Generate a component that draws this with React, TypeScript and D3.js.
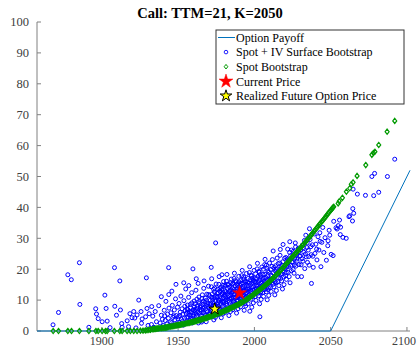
import React from "react";
import * as d3 from "d3";

const titleText = "Call: TTM=21, K=2050";
const xTicks = [1900, 1950, 2000, 2050, 2100];
const yTicks = [0, 10, 20, 30, 40, 50, 60, 70, 80, 90, 100];
const legendLabels = [
  "Option Payoff",
  "Spot + IV Surface Bootstrap",
  "Spot Bootstrap",
  "Current Price",
  "Realized Future Option Price",
];

// Option payoff: spot vs payoff
const payoffSpot = [1857.5, 2050, 2102];
const payoffValue = [0, 0, 52];

// Current / realized points [spot, price]
const currentPrice: [number, number] = [1990.3, 12.3];
const realizedPrice: [number, number] = [1974.0, 7.1];

// Spot + IV surface bootstrap [spot, price]
const ivBootstrap: [number, number][] = [
  [1868.0, 2.0], [1871.6, 6.0], [1877.7, 18.2], [1880.0, 16.6], [1885.3, 22.1], [1885.6, 8.6],
  [1891.5, 1.2], [1896.0, 7.2], [1896.5, 5.5], [1897.6, 4.0], [1900.2, 3.0], [1903.5, 3.2],
  [1902.8, 7.3], [1902.0, 11.6], [1908.3, 20.5], [1911.8, 16.2], [1908.5, 8.0], [1912.2, 6.8],
  [1909.6, 5.1], [1913.3, 1.2], [1916.6, 3.3], [1919.8, 4.3], [1920.9, 6.3], [1923.1, 5.2],
  [1924.2, 10.0], [1925.7, 6.3], [1929.6, 7.3], [1929.2, 17.2], [1943.8, 20.5], [1959.7, 20.1],
  [1974.6, 28.5], [1939.0, 11.1], [1948.6, 15.1], [1953.7, 15.6], [1961.9, 16.9], [1971.7, 20.6],
  [1978.7, 18.2], [1918.4, 5.6], [1921.6, 4.2], [1926.4, 3.9], [1928.7, 4.6], [1931.0, 5.6],
  [1932.7, 7.9], [1926.0, 2.5], [1930.3, 1.8], [1917.5, 1.4], [1922.4, 1.0], [1913.0, 2.4],
  [1905.4, 1.1],
  [1932.5, 2.1], [1933.4, 4.8], [1934.1, 1.2], [1935.0, 6.3], [1935.8, 3.0], [1936.7, 0.9],
  [1937.3, 8.2], [1938.2, 2.6], [1939.0, 5.1], [1939.7, 3.8],
  [1940.3, 1.8], [1940.9, 6.7], [1941.6, 3.4], [1942.0, 9.6], [1942.7, 2.3], [1943.1, 5.5],
  [1943.6, 4.1], [1944.0, 7.4], [1944.4, 1.5], [1944.9, 3.0], [1941.2, 4.9], [1943.9, 11.8],
  [1945.3, 5.9], [1945.8, 2.7], [1946.2, 8.3], [1946.6, 4.4], [1947.1, 1.9], [1947.5, 6.8],
  [1947.9, 3.6], [1948.3, 10.4], [1948.8, 5.0], [1949.2, 2.2], [1949.6, 7.7], [1945.9, 12.9],
  [1947.3, 4.9], [1949.9, 3.9],
  [1950.2, 4.6], [1950.6, 8.9], [1951.0, 2.8], [1951.4, 6.1], [1951.8, 11.3], [1952.2, 3.7],
  [1952.6, 7.2], [1953.0, 5.4], [1953.4, 1.9], [1953.8, 9.8], [1954.2, 4.2], [1954.6, 6.6],
  [1955.0, 13.6], [1951.2, 5.0], [1952.9, 3.1], [1954.4, 8.0],
  [1955.3, 5.7], [1955.7, 2.9], [1956.1, 8.4], [1956.5, 4.5], [1956.9, 10.9], [1957.3, 6.3],
  [1957.7, 3.4], [1958.1, 7.5], [1958.5, 5.1], [1958.9, 12.4], [1959.3, 2.6], [1959.7, 6.9],
  [1956.3, 6.0], [1957.0, 14.7], [1958.2, 4.0], [1959.0, 9.1], [1959.8, 4.8], [1955.9, 7.1],
  [1960.1, 5.3], [1960.5, 9.7], [1960.9, 3.5], [1961.3, 7.0], [1961.7, 13.2], [1962.1, 4.8],
  [1962.5, 8.1], [1962.9, 6.2], [1963.3, 2.6], [1963.7, 11.0], [1964.1, 5.8], [1964.5, 7.6],
  [1964.9, 4.2], [1961.0, 6.4], [1962.3, 10.3], [1963.1, 15.4], [1963.9, 8.9], [1964.7, 3.2],
  [1960.7, 7.8], [1962.8, 5.1],
  [1965.2, 6.8], [1965.6, 10.5], [1966.0, 4.1], [1966.4, 8.6], [1966.8, 13.8], [1967.2, 5.6],
  [1967.6, 9.3], [1968.0, 7.1], [1968.4, 3.0], [1968.8, 11.9], [1969.2, 6.2], [1969.6, 8.0],
  [1965.4, 2.9], [1966.2, 7.4], [1967.0, 16.2], [1967.8, 5.0], [1968.6, 9.9], [1969.4, 4.5],
  [1969.9, 14.5], [1966.6, 6.0], [1968.2, 8.3], [1965.9, 11.7],
  [1970.2, 7.6], [1970.6, 11.4], [1971.0, 4.7], [1971.4, 9.0], [1971.8, 14.3], [1972.2, 6.3],
  [1972.6, 10.1], [1973.0, 8.2], [1973.4, 3.6], [1973.8, 12.6], [1974.2, 6.9], [1974.6, 9.6],
  [1970.4, 5.4], [1971.2, 8.1], [1972.0, 16.9], [1972.8, 5.8], [1973.6, 10.8], [1974.4, 4.4],
  [1974.9, 15.2], [1971.6, 7.0], [1973.2, 13.5], [1970.9, 9.9], [1972.4, 12.0], [1974.0, 8.4],
  [1975.1, 8.7], [1975.5, 12.2], [1975.9, 5.2], [1976.3, 10.0], [1976.7, 15.1], [1977.1, 7.4],
  [1977.5, 11.1], [1977.9, 9.0], [1978.3, 4.3], [1978.7, 13.4], [1979.1, 7.9], [1979.5, 10.6],
  [1975.3, 6.3], [1976.1, 9.2], [1976.9, 17.6], [1977.7, 6.6], [1978.5, 11.8], [1979.3, 5.5],
  [1979.8, 16.0], [1976.5, 8.0], [1978.1, 14.2], [1975.8, 10.9], [1977.3, 12.9], [1978.9, 9.5],
  [1979.6, 12.4], [1976.0, 13.5],
  [1980.1, 9.6], [1980.5, 13.0], [1980.9, 6.0], [1981.3, 10.9], [1981.7, 16.1], [1982.1, 8.3],
  [1982.5, 12.1], [1982.9, 9.9], [1983.3, 5.0], [1983.7, 14.2], [1984.1, 8.8], [1984.5, 11.5],
  [1980.3, 7.2], [1981.1, 10.0], [1982.0, 18.3], [1982.7, 7.5], [1983.5, 12.7], [1984.3, 6.3],
  [1984.8, 16.8], [1981.5, 8.9], [1983.1, 15.0], [1980.8, 11.8], [1982.3, 13.8], [1983.9, 10.4],
  [1984.6, 13.3], [1981.0, 14.5],
  [1985.1, 10.5], [1985.5, 13.9], [1985.9, 6.9], [1986.3, 11.8], [1986.7, 17.0], [1987.1, 9.2],
  [1987.5, 13.0], [1987.9, 10.8], [1988.3, 5.8], [1988.7, 15.1], [1989.1, 9.7], [1989.5, 12.4],
  [1985.3, 8.1], [1986.1, 10.9], [1986.9, 18.7], [1987.7, 8.4], [1988.5, 13.6], [1989.3, 7.2],
  [1989.8, 17.7], [1986.5, 9.8], [1988.1, 15.9], [1985.8, 12.7], [1987.3, 14.7], [1988.9, 11.3],
  [1989.6, 14.2], [1986.0, 15.4], [1987.0, 12.0], [1988.8, 10.1],
  [1990.1, 11.4], [1990.5, 14.8], [1990.9, 7.8], [1991.3, 12.7], [1991.7, 17.9], [1992.1, 10.1],
  [1992.5, 13.9], [1992.9, 11.7], [1993.3, 6.7], [1993.7, 16.0], [1994.1, 10.6], [1994.5, 13.3],
  [1990.3, 9.0], [1991.1, 11.8], [1992.0, 19.6], [1992.7, 9.3], [1993.5, 14.5], [1994.3, 8.1],
  [1994.8, 18.6], [1991.5, 10.7], [1993.1, 16.8], [1990.8, 13.6], [1992.3, 15.6], [1993.9, 12.2],
  [1994.6, 15.1], [1991.0, 16.3], [1992.8, 12.9], [1994.0, 11.0],
  [1995.1, 12.4], [1995.5, 15.8], [1995.9, 8.8], [1996.3, 13.7], [1996.7, 18.9], [1997.1, 11.1],
  [1997.5, 14.9], [1997.9, 12.7], [1998.3, 7.7], [1998.7, 17.0], [1999.1, 11.6], [1999.5, 14.3],
  [1995.3, 10.0], [1996.1, 12.8], [1996.9, 20.8], [1997.7, 10.3], [1998.5, 15.5], [1999.3, 9.1],
  [1999.8, 19.6], [1996.5, 11.7], [1998.1, 17.8], [1995.8, 14.6], [1997.3, 16.6], [1998.9, 13.2],
  [1999.6, 16.1], [1997.0, 6.4],
  [2000.2, 13.5], [2000.6, 17.0], [2001.0, 9.9], [2001.4, 14.8], [2001.8, 20.1], [2002.2, 12.2],
  [2002.6, 16.0], [2003.0, 13.8], [2003.4, 8.8], [2003.8, 18.2], [2004.2, 12.7], [2004.6, 15.4],
  [2000.4, 11.1], [2001.2, 13.9], [2002.0, 21.9], [2002.8, 11.4], [2003.6, 16.6], [2004.4, 10.2],
  [2004.9, 20.7], [2001.6, 12.8], [2003.2, 19.0], [2000.9, 15.7], [2002.4, 17.7], [2003.6, 4.6],
  [2005.2, 14.8], [2005.6, 18.3], [2006.0, 11.2], [2006.4, 16.1], [2006.8, 21.5], [2007.2, 13.5],
  [2007.6, 17.3], [2008.0, 15.1], [2008.4, 10.1], [2008.8, 19.5], [2009.2, 14.0], [2009.6, 16.7],
  [2005.4, 12.4], [2006.2, 15.2], [2007.0, 23.2], [2007.8, 12.7], [2008.6, 17.9], [2009.4, 11.5],
  [2009.9, 22.0], [2006.6, 14.1], [2008.2, 20.3], [2005.9, 17.0],
  [2010.2, 16.4], [2010.6, 19.9], [2011.0, 12.8], [2011.4, 17.7], [2011.8, 23.1], [2012.2, 15.1],
  [2012.6, 18.9], [2013.0, 16.7], [2013.4, 11.7], [2013.8, 21.1], [2014.2, 15.6], [2014.6, 18.3],
  [2010.4, 14.0], [2011.2, 16.8], [2012.3, 25.9], [2012.8, 14.3], [2013.6, 19.5], [2014.4, 13.1],
  [2014.9, 23.6], [2011.6, 15.7],
  [2015.2, 18.3], [2015.6, 21.8], [2016.0, 14.7], [2016.4, 19.6], [2016.8, 24.5], [2017.2, 17.0],
  [2017.6, 20.8], [2018.0, 18.6], [2018.4, 13.6], [2018.8, 28.0], [2019.2, 17.5], [2019.6, 20.2],
  [2015.4, 15.9], [2016.2, 18.7], [2017.0, 26.4], [2017.8, 16.2], [2018.6, 22.4], [2019.4, 15.0],
  [2020.2, 20.3], [2020.6, 23.8], [2021.0, 16.7], [2021.4, 21.6], [2021.8, 26.5], [2022.2, 19.0],
  [2022.6, 22.8], [2023.2, 28.9], [2023.4, 15.6], [2023.8, 24.4], [2024.2, 19.5], [2024.6, 22.2],
  [2020.4, 17.9], [2021.2, 20.7], [2022.8, 17.6], [2024.4, 26.2],
  [2025.2, 22.3], [2025.6, 25.8], [2026.0, 18.7], [2026.4, 23.6], [2026.8, 28.5], [2027.2, 21.0],
  [2027.6, 24.8], [2028.0, 22.6], [2028.4, 17.6], [2028.8, 26.8], [2029.2, 21.5], [2029.6, 24.2],
  [2025.4, 19.9], [2027.0, 27.2],
  [2030.2, 24.3], [2030.9, 17.6], [2031.4, 27.8], [2031.8, 22.6], [2032.4, 25.5], [2033.0, 20.2],
  [2033.7, 31.0], [2034.0, 24.0], [2034.4, 27.0], [2030.6, 21.4], [2032.8, 29.3], [2034.8, 22.2],
  [2035.3, 26.2], [2035.9, 21.3], [2036.5, 29.6], [2037.4, 15.4], [2037.2, 24.7], [2038.0, 27.9],
  [2038.6, 20.6], [2039.2, 31.4], [2039.7, 25.1], [2036.1, 33.1],
  [2040.3, 28.1], [2041.0, 23.0], [2041.7, 30.5], [2042.3, 26.2], [2042.9, 31.8], [2043.6, 20.8],
  [2044.2, 28.7], [2044.8, 33.5],
  [2045.5, 25.4], [2046.3, 30.2], [2047.2, 22.9], [2048.1, 27.6], [2049.0, 32.6], [2050.3, 24.8],
  [2051.6, 24.4], [2049.4, 31.0], [2048.3, 29.2],
  [2052.0, 35.5], [2053.5, 33.4], [2055.0, 34.1], [2056.5, 33.6], [2055.8, 35.9], [2058.0, 30.3],
  [2060.2, 30.0], [2062.0, 37.0], [2062.5, 37.3], [2064.3, 35.6], [2064.5, 39.6], [2065.1, 38.1],
  [2064.7, 45.9], [2067.5, 44.3], [2072.8, 43.9], [2078.2, 43.8], [2081.5, 44.9], [2077.0, 50.0],
  [2078.8, 51.0], [2087.2, 50.0], [2092.0, 55.6], [2054.2, 33.0], [2056.3, 31.2],
  [1955.6, 4.4], [1956.4, 6.9], [1957.2, 5.2], [1958.0, 8.6], [1958.7, 6.0], [1959.5, 3.9],
  [1960.3, 6.6], [1961.1, 8.8], [1961.9, 5.6], [1962.7, 7.3], [1963.5, 9.5], [1964.3, 6.9],
  [1965.1, 8.2], [1965.8, 5.9], [1966.5, 9.7], [1967.3, 7.7], [1967.9, 10.6], [1968.7, 6.6],
  [1969.5, 9.1], [1970.0, 11.8], [1970.8, 8.7], [1971.5, 6.5], [1972.1, 10.9], [1972.9, 9.2],
  [1973.5, 7.4], [1974.3, 11.2], [1974.8, 8.0], [1973.9, 13.9],
  [1975.2, 11.1], [1975.7, 7.9], [1976.2, 12.4], [1976.8, 9.9], [1977.4, 13.7], [1977.8, 10.4],
  [1978.4, 8.6], [1979.0, 12.0], [1979.4, 14.8], [1979.9, 9.2], [1980.4, 11.3], [1980.7, 14.9],
  [1981.4, 12.7], [1981.9, 10.2], [1982.4, 15.1], [1983.0, 11.4], [1983.6, 9.4], [1984.0, 13.0],
  [1984.4, 15.6], [1984.9, 10.8],
  [1985.2, 12.3], [1985.7, 15.2], [1986.2, 9.4], [1986.6, 13.5], [1987.2, 11.0], [1987.6, 16.3],
  [1988.2, 12.8], [1988.6, 9.6], [1989.0, 14.7], [1989.4, 11.9], [1989.9, 15.9], [1990.4, 13.1],
  [1990.7, 10.3], [1991.2, 15.4], [1991.6, 12.3], [1992.2, 14.4], [1992.6, 11.2], [1993.0, 17.5],
  [1993.6, 13.1], [1994.2, 15.9], [1994.7, 12.3], [1993.8, 8.8],
  [1995.4, 13.6], [1995.9, 17.0], [1996.4, 10.6], [1996.8, 15.5], [1997.4, 13.2], [1997.8, 18.1],
  [1998.4, 14.2], [1998.8, 11.2], [1999.2, 16.4], [1999.7, 13.2], [2000.3, 15.9], [2000.8, 18.5],
  [2001.3, 12.6], [2001.7, 16.9], [2002.3, 14.6], [2002.9, 19.3], [2003.3, 15.2], [2003.9, 12.3],
  [2004.3, 17.5], [2004.8, 14.6],
  [2005.3, 16.6], [2005.8, 20.0], [2006.3, 13.4], [2006.9, 18.3], [2007.4, 15.6], [2007.9, 21.3],
  [2008.5, 16.5], [2009.0, 13.4], [2009.5, 19.0], [2010.0, 15.6], [2010.8, 18.1], [2011.5, 20.9],
  [2012.1, 17.0], [2012.9, 20.6], [2013.5, 16.0], [2014.3, 19.9],
  [2015.1, 20.1], [2015.9, 17.2], [2016.6, 22.0], [2017.4, 18.4], [2018.2, 21.3], [2019.0, 19.3],
  [2019.8, 23.5], [2020.9, 18.9], [2021.6, 23.3], [2022.4, 20.9], [2023.1, 25.4], [2024.0, 21.3],
  [2025.0, 24.0], [2026.2, 21.4], [2027.8, 23.3], [2029.0, 25.6],
  [2030.4, 26.3], [2031.2, 23.4], [2032.1, 27.0], [2033.4, 24.9], [2034.6, 28.5], [2035.6, 24.1],
  [2037.0, 27.3], [2038.3, 24.2], [2040.8, 26.5], [2043.1, 29.0],
];

// Spot bootstrap [spot, price]
const spotBootstrap: [number, number][] = [
  [1868.1, 0], [1871.6, 0], [1877.7, 0], [1880.1, 0], [1885.3, 0], [1891.5, 0], [1896.1, 0],
  [1897.6, 0], [1900.2, 0], [1902.4, 0], [1903.5, 0], [1908.2, 0], [1911.8, 0], [1913.3, 0],
  [1916.6, 0], [1918.7, 0], [1920.9, 0], [1923.1, 0], [1925.3, 0.1], [1927.0, 0.1],
  [1928.5, 0.2], [1929.6, 0.25], [1930.8, 0.35], [1931.8, 0.4], [1932.0, 0.45],
  [1933.2, 0.6], [1934.6, 0.65], [1936.0, 0.75], [1937.3, 0.85], [1938.9, 0.95], [1940.2, 1.0],
  [1941.8, 1.1], [1943.1, 1.25], [1944.7, 1.4], [1946.0, 1.5], [1947.4, 1.65], [1948.9, 1.8],
  [1950.3, 1.95], [1951.6, 2.05], [1953.1, 2.2], [1954.5, 2.35], [1955.8, 2.5], [1957.3, 2.65],
  [1958.7, 2.85], [1960.1, 3.0], [1961.4, 3.2], [1962.9, 3.4], [1964.3, 3.6], [1965.7, 3.8],
  [1967.0, 4.0], [1968.5, 4.25], [1969.9, 4.5], [1971.2, 4.7], [1972.7, 4.95], [1974.1, 5.25],
  [1975.4, 5.5], [1976.9, 5.75], [1978.3, 6.05], [1979.6, 6.3], [1981.1, 6.65], [1982.5, 6.95],
  [1983.8, 7.25], [1985.3, 7.6], [1986.7, 7.9], [1988.0, 8.25], [1989.5, 8.6], [1990.9, 9.0],
  [1992.2, 9.35], [1993.7, 9.8], [1995.1, 10.25], [1996.4, 10.7], [1997.9, 11.25], [1999.3, 11.75],
  [2000.6, 12.25], [2002.1, 12.8], [2003.5, 13.35], [2004.8, 13.85], [2006.3, 14.45], [2007.7, 15.05],
  [2009.0, 15.6], [2010.5, 16.25], [2011.9, 16.9], [2013.2, 17.55], [2014.7, 18.3], [2016.1, 19.0],
  [2017.4, 19.75], [2018.9, 20.6], [2020.3, 21.35], [2021.6, 22.1], [2023.1, 22.95], [2024.5, 23.75],
  [2025.8, 24.45], [2027.3, 25.3], [2028.7, 26.05], [2030.0, 26.8], [2031.5, 27.65], [2032.9, 28.45],
  [2034.2, 29.25], [2035.7, 30.15], [2037.1, 30.95], [2038.4, 31.8], [2039.9, 32.75], [2041.3, 33.6],
  [2042.6, 34.45], [2044.1, 35.35], [2045.5, 36.2], [2046.8, 37.0], [2048.3, 38.0], [2049.7, 38.85],
  [2051.1, 39.7], [2052.0, 40.2],
  [1933.9, 0.62], [1935.3, 0.7], [1936.6, 0.8], [1938.1, 0.9], [1939.5, 0.97], [1941.0, 1.05],
  [1942.4, 1.17], [1943.9, 1.32], [1945.3, 1.45], [1946.7, 1.57], [1948.1, 1.72], [1949.6, 1.87],
  [1950.9, 2.0], [1952.3, 2.12], [1953.8, 2.27], [1955.1, 2.42], [1956.5, 2.57], [1958.0, 2.75],
  [1959.4, 2.92], [1960.7, 3.1], [1962.1, 3.3], [1963.6, 3.5], [1965.0, 3.7], [1966.3, 3.9],
  [1967.8, 4.12], [1969.2, 4.37], [1970.5, 4.6], [1971.9, 4.82], [1973.4, 5.1], [1974.7, 5.37],
  [1976.1, 5.62], [1977.6, 5.9], [1978.9, 6.17], [1980.3, 6.47], [1981.8, 6.8], [1983.1, 7.1],
  [1984.5, 7.42], [1986.0, 7.75], [1987.3, 8.07], [1988.7, 8.42], [1990.2, 8.8], [1991.5, 9.17],
  [1992.9, 9.57], [1994.4, 10.02], [1995.7, 10.47], [1997.1, 10.97], [1998.6, 11.5], [1999.9, 12.0],
  [2001.3, 12.52], [2002.8, 13.07], [2004.1, 13.6], [2005.5, 14.15], [2007.0, 14.75], [2008.3, 15.32],
  [2009.7, 15.92], [2011.2, 16.57], [2012.5, 17.22], [2013.9, 17.92], [2015.4, 18.65], [2016.7, 19.37],
  [2018.1, 20.17], [2019.6, 20.97], [2020.9, 21.72], [2022.3, 22.52], [2023.8, 23.35], [2025.1, 24.1],
  [2026.5, 24.87], [2028.0, 25.67], [2029.3, 26.42], [2030.7, 27.22], [2032.2, 28.05], [2033.5, 28.85],
  [2034.9, 29.7], [2036.4, 30.55], [2037.7, 31.37], [2039.1, 32.27], [2040.6, 33.17], [2041.9, 34.02],
  [2043.3, 34.9], [2044.8, 35.77], [2046.1, 36.6], [2047.5, 37.5], [2049.0, 38.42], [2050.4, 39.27],
  [2051.5, 39.95],
  [2054.9, 41.3], [2055.6, 42.0], [2057.7, 43.1], [2060.3, 45.1], [2062.5, 46.2], [2063.5, 47.5],
  [2064.7, 48.1], [2067.3, 50.2], [2073.0, 53.7], [2077.0, 57.0], [2078.0, 57.6], [2079.0, 58.0],
  [2081.5, 60.2], [2087.0, 64.5], [2092.0, 68.0],
];

const W = 417;
const H = 349;
const BLUE = "#0000ff";
const GREEN = "#009a00";
const PAYOFF = "#0072bd";
const AXIS = "#808080";
const LABEL = "#404040";
const FONT = "'Liberation Serif', 'Times New Roman', serif";

function diamond(cx: number, cy: number, hw = 2.0, hh = 2.6) {
  return `M${cx},${cy - hh}L${cx + hw},${cy}L${cx},${cy + hh}L${cx - hw},${cy}Z`;
}

export default function App() {
  const x = d3.scaleLinear().domain([1857.5, 2102]).range([37, 410]);
  const y = d3.scaleLinear().domain([0, 100]).range([331, 22]);

  const payoffLine = d3
    .line<number>()
    .x((_, i) => x(payoffSpot[i]))
    .y((_, i) => y(payoffValue[i]))(payoffValue) as string;

  const bigStar = d3.symbol(d3.symbolStar, 60)() as string;
  const smallStar = d3.symbol(d3.symbolStar, 42)() as string;

  const lx = 216, ly = 30, lw = 188, lh = 74;
  const rowY = (i: number) => 37.5 + i * 14.6;
  const symX = 226;
  const textX = 236;

  return (
    <svg width={W} height={H} style={{ position: "absolute", left: 0, top: 0, background: "#fff" }} fontFamily={FONT}>
      <rect x={0} y={0} width={W} height={H} fill="#fff" />
      <text x={210} y={18} textAnchor="middle" fontWeight="bold" fontSize={14.5} fill="#000">
        {titleText}
      </text>

      {/* axes */}
      <line x1={37} x2={37} y1={y(100)} y2={y(0)} stroke={AXIS} strokeWidth={1} />
      <line x1={37} x2={x(2102)} y1={y(0)} y2={y(0)} stroke={AXIS} strokeWidth={1} />
      {yTicks.map((t) => (
        <g key={"y" + t}>
          <line x1={37} x2={41} y1={y(t)} y2={y(t)} stroke={AXIS} />
          <text x={29} y={y(t)} dy="0.35em" textAnchor="end" fontSize={12.5} fill={LABEL}>
            {t}
          </text>
        </g>
      ))}
      {xTicks.map((t, i) => {
        const last = i === xTicks.length - 1;
        return (
          <g key={"x" + t}>
            <line x1={x(t)} x2={x(t)} y1={y(0)} y2={y(0) - 4} stroke={AXIS} />
            <text
              x={last ? 416 : x(t)}
              y={345}
              textAnchor={last ? "end" : "middle"}
              fontSize={12}
              fill={LABEL}
            >
              {t}
            </text>
          </g>
        );
      })}

      {/* payoff */}
      <path d={payoffLine} fill="none" stroke={PAYOFF} strokeWidth={1} />

      {/* IV bootstrap circles */}
      {ivBootstrap.map((d, i) => (
        <circle key={"b" + i} cx={x(d[0])} cy={y(d[1])} r={2.0} fill="none" stroke={BLUE} strokeWidth={1} />
      ))}

      {/* spot bootstrap diamonds */}
      {spotBootstrap.map((d, i) => (
        <path key={"g" + i} d={diamond(x(d[0]), y(d[1]))} fill="none" stroke={GREEN} strokeWidth={1.2} />
      ))}

      {/* stars */}
      <path d={bigStar} transform={`translate(${x(currentPrice[0])},${y(currentPrice[1])})`} fill="#ff0000" stroke="#ff0000" strokeWidth={0.5} />
      <path d={smallStar} transform={`translate(${x(realizedPrice[0])},${y(realizedPrice[1])})`} fill="#ffff00" stroke="#000" strokeWidth={1} />

      {/* legend */}
      <rect x={lx} y={ly} width={lw} height={lh} fill="#fff" stroke="#333" strokeWidth={1} />
      <line x1={218} x2={235} y1={rowY(0)} y2={rowY(0)} stroke={PAYOFF} strokeWidth={1} />
      <circle cx={symX} cy={rowY(1)} r={1.8} fill="none" stroke={BLUE} strokeWidth={0.9} />
      <path d={diamond(symX, rowY(2), 1.8, 2.3)} fill="none" stroke={GREEN} strokeWidth={1} />
      <path d={bigStar} transform={`translate(${symX},${rowY(3)})`} fill="#ff0000" stroke="#ff0000" strokeWidth={0.5} />
      <path d={smallStar} transform={`translate(${symX},${rowY(4)})`} fill="#ffff00" stroke="#000" strokeWidth={1} />
      {legendLabels.map((l, i) => (
        <text key={l} x={textX} y={rowY(i)} dy="0.35em" fontSize={12} fill="#000">
          {l}
        </text>
      ))}
    </svg>
  );
}
